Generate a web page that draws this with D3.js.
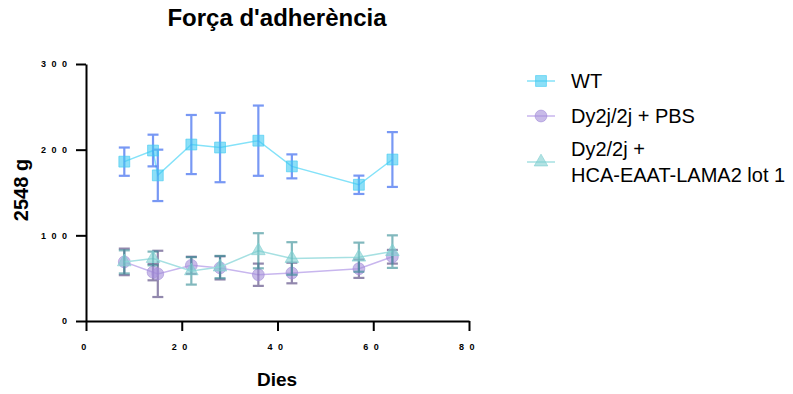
<!DOCTYPE html>
<html>
<head>
<meta charset="utf-8">
<script src="https://cdn.jsdelivr.net/npm/d3@7/dist/d3.min.js"></script>
<style>
  html, body { margin: 0; padding: 0; background: #fff; }
  svg { display: block; font-family: "Liberation Sans", Arial, sans-serif; }
</style>
</head>
<body>
<svg id="chart" width="793" height="394"></svg>
<script>
// Grip strength over time, three groups (mean ± error)
const xTicks = [0, 20, 40, 60, 80];
const yTicks = [0, 100, 200, 300];

const wtDays  = [8, 14, 15, 22, 28, 36, 43, 57, 64];
const wtMean  = [186, 199, 170, 206, 202.5, 210.5, 180.5, 159, 188.5];
const wtErr   = [16.5, 18.5, 30, 34.5, 40.5, 41, 14, 10.7, 32];

const pbsDays = [8, 14, 15, 22, 28, 36, 43, 57, 64];
const pbsMean = [69, 57, 55, 65, 62, 54, 56, 61, 75];
const pbsErr  = [15.5, 9.5, 27, 10, 13.5, 13, 12, 10.7, 8];

const treatDays = [8, 14, 22, 28, 36, 43, 57, 64];
const treatMean = [69, 73, 58.5, 63, 82, 73, 74.5, 81];
const treatErr  = [13.5, 8, 16, 13, 20.5, 19, 17, 19];

const legendLabels = [["WT"], ["Dy2j/2j + PBS"], ["Dy2/2j +", "HCA-EAAT-LAMA2 lot 1"]];

const svg = d3.select("#chart");

const x = d3.scaleLinear().domain([0, 80]).range([86, 469]);
const y = d3.scaleLinear().domain([0, 300]).range([321, 64]);

// Title
svg.append("text")
  .attr("x", 277).attr("y", 26)
  .attr("text-anchor", "middle")
  .style("font-size", "24px").style("font-weight", "bold")
  .text("Força d'adherència");

// Axes
const tickFont = g => g.selectAll("text")
  .style("font-size", "9px").style("font-weight", "bold")
  .style("letter-spacing", "5.5px").attr("fill", "#000");

const xAxis = svg.append("g")
  .attr("transform", `translate(0,${y(0)})`)
  .call(d3.axisBottom(x).tickValues(xTicks).tickSize(10).tickPadding(13).tickSizeOuter(0))
  .call(tickFont);

const yAxis = svg.append("g")
  .attr("transform", `translate(${x(0)},0)`)
  .call(d3.axisLeft(y).tickValues(yTicks).tickSize(10).tickPadding(3.5).tickSizeOuter(0))
  .call(tickFont);

[xAxis, yAxis].forEach(g => {
  g.select(".domain").attr("stroke", "#000").attr("stroke-width", 2);
  g.selectAll(".tick line").attr("stroke", "#000").attr("stroke-width", 2);
});

// Axis titles
svg.append("text")
  .attr("x", 277).attr("y", 386)
  .attr("text-anchor", "middle")
  .style("font-size", "19px").style("font-weight", "bold")
  .text("Dies");

svg.append("text")
  .attr("transform", "translate(27.5,190) rotate(-90)")
  .attr("text-anchor", "middle")
  .style("font-size", "20px").style("font-weight", "bold")
  .text("2548 g");

// Series definitions
const series = [
  { days: wtDays, mean: wtMean, err: wtErr, line: "#84e2f9", bar: "#3f6df0", barOp: 0.7,
    fill: "#3fc9f2", shape: d3.symbolSquare, size: 118 },
  { days: pbsDays, mean: pbsMean, err: pbsErr, line: "#c8b6ee", bar: "#4b3a78", barOp: 0.6,
    fill: "#a48dd8", shape: d3.symbolCircle, size: 110 },
  { days: treatDays, mean: treatMean, err: treatErr, line: "#a6e0e2", bar: "#2f8a92", barOp: 0.6,
    fill: "#7fcfd0", shape: d3.symbolTriangle, size: 80 }
];

const capHalf = 5.5;

series.forEach(s => {
  const pts = s.days.map((d, i) => ({ d, m: s.mean[i], e: s.err[i] }));
  const g = svg.append("g");

  g.append("path")
    .datum(pts)
    .attr("fill", "none")
    .attr("stroke", s.line)
    .attr("stroke-width", 1.5)
    .attr("d", d3.line().x(p => x(p.d)).y(p => y(p.m)));

  const eb = g.append("g").attr("stroke", s.bar).attr("stroke-width", 2.2).attr("opacity", s.barOp);
  pts.forEach(p => {
    const cx = x(p.d), y1 = y(p.m + p.e), y0 = y(p.m - p.e);
    eb.append("line").attr("x1", cx).attr("x2", cx).attr("y1", y1).attr("y2", y0);
    eb.append("line").attr("x1", cx - capHalf).attr("x2", cx + capHalf).attr("y1", y1).attr("y2", y1);
    eb.append("line").attr("x1", cx - capHalf).attr("x2", cx + capHalf).attr("y1", y0).attr("y2", y0);
  });

  g.selectAll("path.mk")
    .data(pts).enter().append("path")
    .attr("class", "mk")
    .attr("transform", p => `translate(${x(p.d)},${y(p.m)})`)
    .attr("d", d3.symbol().type(s.shape).size(s.size))
    .attr("fill", s.fill).attr("fill-opacity", 0.6)
    .attr("stroke", s.fill).attr("stroke-opacity", 0.6).attr("stroke-width", 1);
});

// Legend
const legendY = [81, 116, 162];
series.forEach((s, i) => {
  const ly = legendY[i];
  svg.append("line")
    .attr("x1", 527).attr("x2", 555).attr("y1", ly).attr("y2", ly)
    .attr("stroke", s.line).attr("stroke-width", 1.5);
  svg.append("path")
    .attr("transform", `translate(541,${ly})`)
    .attr("d", d3.symbol().type(s.shape).size(s.size))
    .attr("fill", s.fill).attr("fill-opacity", 0.6)
    .attr("stroke", s.fill).attr("stroke-opacity", 0.6);
  const lines = legendLabels[i];
  const t = svg.append("text")
    .attr("x", 571)
    .style("font-size", "20px");
  lines.forEach((txt, k) => {
    t.append("tspan")
      .attr("x", 571)
      .attr("y", ly + 7 + (k - (lines.length - 1) / 2) * 26)
      .text(txt);
  });
});
</script>
</body>
</html>
